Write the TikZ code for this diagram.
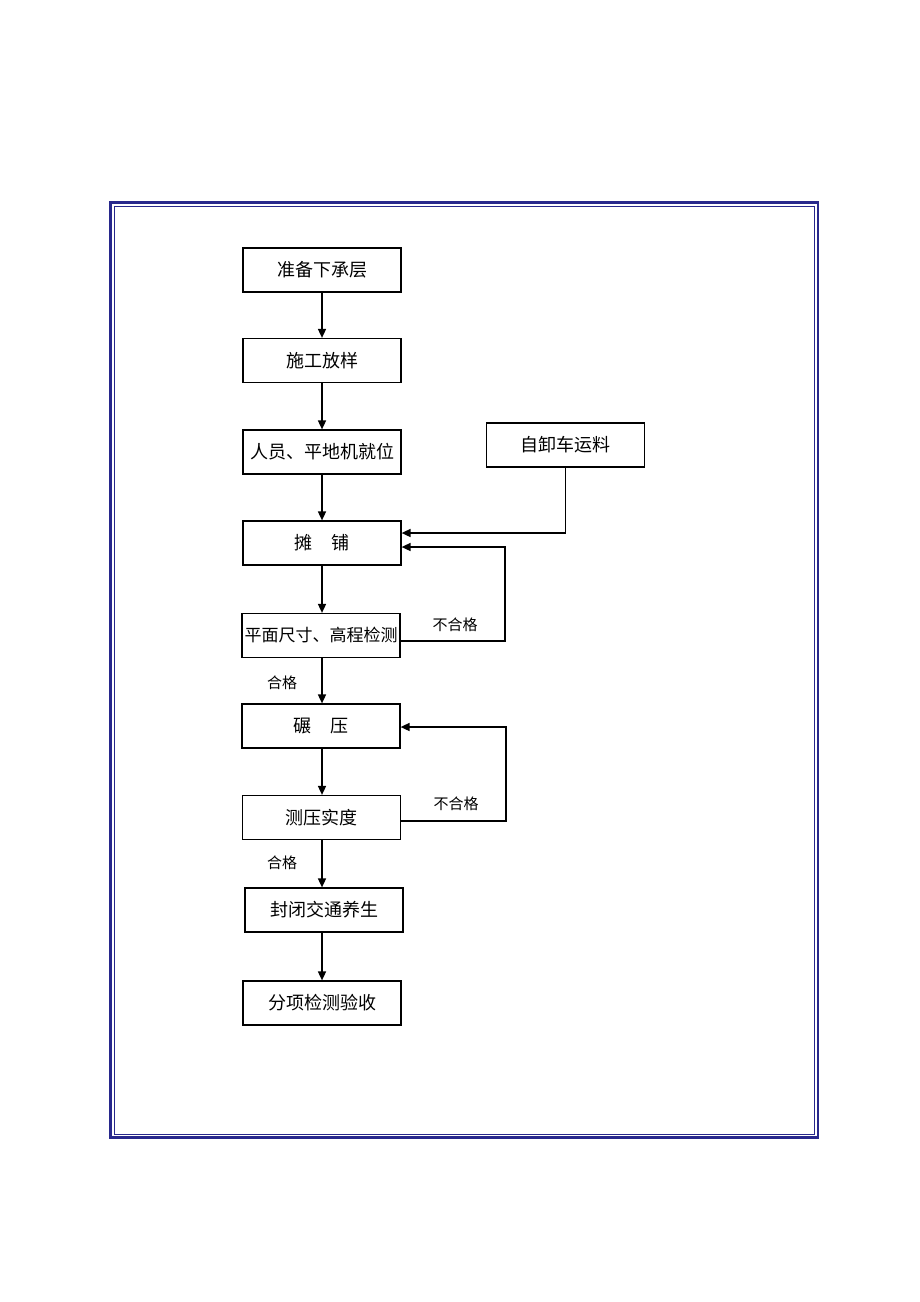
\documentclass[tikz,border=0pt]{standalone}
\usepackage{fontspec}
\setmainfont{Noto Sans CJK SC}
\usetikzlibrary{arrows.meta}
\definecolor{framecol}{RGB}{40,40,140}
\begin{document}
\begin{tikzpicture}[x=1pt,y=-1pt,
  stepbox/.style={draw=black,line width=1.2pt,minimum width=158pt,minimum height=44pt,inner sep=0pt,font=\fontsize{18}{20}\selectfont},
  arr/.style={line width=1.6pt,-{Triangle[length=9pt,width=8pt]}},
  lbl/.style={font=\fontsize{15}{17}\selectfont,inner sep=0pt},
  frame/.style={draw=framecol}]
\useasboundingbox (0,0) rectangle (920,1302);
\draw[frame,line width=2.2pt] (110.5,202.5) rectangle (818,1137.5);
\draw[frame,line width=0.9pt] (114,206) rectangle (814.5,1134);
\node[stepbox] (n1) at (322,270) {准备下承层};
\node[stepbox] (n2) at (322,360.5) {施工放样};
\node[stepbox] (n3) at (322,452) {人员、平地机就位};
\node[stepbox] (truck) at (565.5,445) {自卸车运料};
\node[stepbox] (n4) at (322,543) {摊\hspace{1.1em}铺};
\node[stepbox,font=\fontsize{17}{19}\selectfont] (n5) at (321,635.5) {平面尺寸、高程检测};
\node[stepbox] (n6) at (321,726) {碾\hspace{1.1em}压};
\node[stepbox] (n7) at (321.5,817.5) {测压实度};
\node[stepbox] (n8) at (324,910) {封闭交通养生};
\node[stepbox] (n9) at (322,1003) {分项检测验收};
\draw[arr] (n1.south) -- (n2.north);
\draw[arr] (n2.south) -- (n3.north);
\draw[arr] (n3.south) -- (n4.north);
\draw[arr] (n4.south) -- (n5.north -| n4.south);
\draw[arr] (n5.south -| n4.south) -- (n6.north -| n4.south);
\draw[arr] (n6.south -| n4.south) -- (n7.north -| n4.south);
\draw[arr] (n7.south -| n4.south) -- (n8.north -| n4.south);
\draw[arr] (n8.south -| n4.south) -- (n9.north -| n4.south);
\draw[arr] (truck.south) |- ([yshift=10pt]n4.east);
\coordinate (r1) at (505,0);
\coordinate (r2) at (506,0);
\draw[arr] ([yshift=-5.5pt]n5.east) -| ([yshift=-4pt]n4.east -| r1) -- ([yshift=-4pt]n4.east);
\draw[arr] ([yshift=-3.5pt]n7.east) -| ([yshift=-1pt]n6.east -| r2) -- ([yshift=-1pt]n6.east);
\node[lbl] (b1) at (455,625) {不合格};
\node[lbl] (b2) at (456,804) {不合格};
\node[lbl] (h1) at (282,683) {合格};
\node[lbl] (h2) at (282,863) {合格};
\end{tikzpicture}
\end{document}
